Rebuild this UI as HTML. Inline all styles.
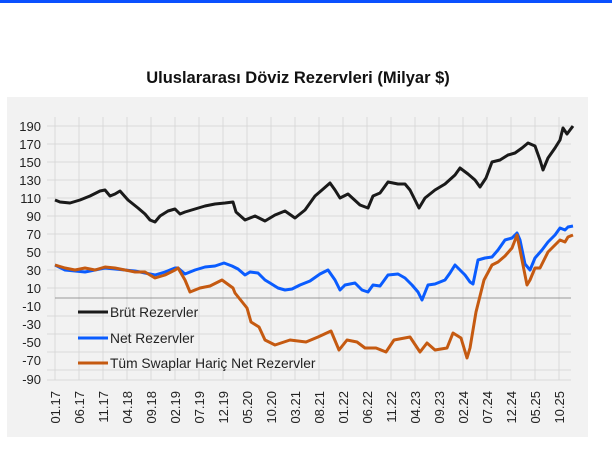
<!DOCTYPE html>
<html><head><meta charset="utf-8"><style>
body{margin:0;background:#fff;width:612px;height:470px;overflow:hidden}
svg{display:block;font-family:"Liberation Sans",sans-serif}
</style></head><body>
<svg width="612" height="470" viewBox="0 0 612 470">
<rect x="0" y="0" width="612" height="3" fill="#0a50ff"/>
<text x="298" y="83" text-anchor="middle" font-size="16.5" font-weight="bold" fill="#111">Uluslararası  Döviz Rezervleri  (Milyar $)</text>
<rect x="7" y="97" width="581" height="340" fill="#f2f2f2"/>
<g stroke="#d9d9d9" stroke-width="1">
<line x1="47" x2="571" y1="126" y2="126"/><line x1="47" x2="571" y1="144" y2="144"/><line x1="47" x2="571" y1="162" y2="162"/><line x1="47" x2="571" y1="180" y2="180"/><line x1="47" x2="571" y1="198" y2="198"/><line x1="47" x2="571" y1="216" y2="216"/><line x1="47" x2="571" y1="234" y2="234"/><line x1="47" x2="571" y1="252" y2="252"/><line x1="47" x2="571" y1="270" y2="270"/><line x1="47" x2="571" y1="288" y2="288"/><line x1="47" x2="571" y1="316" y2="316"/><line x1="47" x2="571" y1="334" y2="334"/><line x1="47" x2="571" y1="352" y2="352"/><line x1="47" x2="571" y1="370" y2="370"/><line x1="47" x2="571" y1="380" y2="380"/>
<line x1="55" x2="55" y1="117" y2="380"/><line x1="79" x2="79" y1="117" y2="380"/><line x1="103" x2="103" y1="117" y2="380"/><line x1="127" x2="127" y1="117" y2="380"/><line x1="151" x2="151" y1="117" y2="380"/><line x1="175" x2="175" y1="117" y2="380"/><line x1="199" x2="199" y1="117" y2="380"/><line x1="223" x2="223" y1="117" y2="380"/><line x1="247" x2="247" y1="117" y2="380"/><line x1="271" x2="271" y1="117" y2="380"/><line x1="295" x2="295" y1="117" y2="380"/><line x1="319" x2="319" y1="117" y2="380"/><line x1="343" x2="343" y1="117" y2="380"/><line x1="367" x2="367" y1="117" y2="380"/><line x1="391" x2="391" y1="117" y2="380"/><line x1="415" x2="415" y1="117" y2="380"/><line x1="439" x2="439" y1="117" y2="380"/><line x1="463" x2="463" y1="117" y2="380"/><line x1="487" x2="487" y1="117" y2="380"/><line x1="511" x2="511" y1="117" y2="380"/><line x1="535" x2="535" y1="117" y2="380"/><line x1="559" x2="559" y1="117" y2="380"/>
</g>
<line x1="55" x2="571" y1="298" y2="298" stroke="#999" stroke-width="1"/>
<g font-size="13" fill="#222" text-anchor="end">
<text x="41" y="131">190</text><text x="41" y="149">170</text><text x="41" y="167">150</text><text x="41" y="185">130</text><text x="41" y="203">110</text><text x="41" y="221">90</text><text x="41" y="239">70</text><text x="41" y="257">50</text><text x="41" y="275">30</text><text x="41" y="293">10</text><text x="41" y="311">-10</text><text x="41" y="329">-30</text><text x="41" y="347">-50</text><text x="41" y="365">-70</text><text x="41" y="384">-90</text>
</g>
<g font-size="13" fill="#222" text-anchor="end">
<text transform="translate(60,391) rotate(-90)">01.17</text><text transform="translate(84,391) rotate(-90)">06.17</text><text transform="translate(108,391) rotate(-90)">11.17</text><text transform="translate(132,391) rotate(-90)">04.18</text><text transform="translate(156,391) rotate(-90)">09.18</text><text transform="translate(180,391) rotate(-90)">02.19</text><text transform="translate(204,391) rotate(-90)">07.19</text><text transform="translate(228,391) rotate(-90)">12.19</text><text transform="translate(252,391) rotate(-90)">05.20</text><text transform="translate(276,391) rotate(-90)">10.20</text><text transform="translate(300,391) rotate(-90)">03.21</text><text transform="translate(324,391) rotate(-90)">08.21</text><text transform="translate(348,391) rotate(-90)">01.22</text><text transform="translate(372,391) rotate(-90)">06.22</text><text transform="translate(396,391) rotate(-90)">11.22</text><text transform="translate(420,391) rotate(-90)">04.23</text><text transform="translate(444,391) rotate(-90)">09.23</text><text transform="translate(468,391) rotate(-90)">02.24</text><text transform="translate(492,391) rotate(-90)">07.24</text><text transform="translate(516,391) rotate(-90)">12.24</text><text transform="translate(540,391) rotate(-90)">05.25</text><text transform="translate(564,391) rotate(-90)">10.25</text>
</g>
<g fill="none" stroke-width="3" stroke-linejoin="round">
<polyline stroke="#1a1a1a" points="55,200 60,202 70,203 80,200 90,196 100,191 105,190 110,196 115,194 120,191 128,200 138,208 145,214 150,220 155,222 160,216 168,211 175,209 180,214 185,212 195,209 205,206 215,204 225,203 233,202 236,212 245,220 255,216 265,221 275,215 285,211 295,218 305,210 315,196 322,190 330,183 335,190 340,198 348,194 360,205 368,208 373,196 380,193 388,182 398,184 405,184 410,190 415,200 419,208 425,198 435,190 445,184 455,175 460,168 468,174 475,180 480,187 486,178 492,162 500,160 508,155 515,153 522,148 528,143 535,146 540,160 543,170 548,158 555,148 560,140 563,128 567,134 570,130 573,126"/>
<polyline stroke="#0a5cff" points="55,265 65,270 75,271 85,272 95,270 105,268 115,269 125,270 135,271 145,273 155,275 165,272 175,268 178,268 185,274 195,270 205,267 215,266 224,263 232,266 238,269 245,275 250,272 258,273 265,280 270,283 278,288 285,290 292,289 300,285 310,281 320,274 328,270 335,280 340,290 345,285 355,283 362,290 368,292 373,285 380,286 388,275 398,274 405,278 412,285 418,292 422,300 428,285 435,284 445,280 450,273 455,265 460,270 465,275 470,282 473,284 478,260 485,258 492,257 498,250 505,240 512,238 517,233 520,240 525,264 530,270 535,258 542,250 548,242 555,235 560,228 565,230 568,227 573,226"/>
<polyline stroke="#c55a11" points="55,265 65,268 75,270 85,268 95,270 105,267 115,268 125,270 135,272 145,272 155,278 165,275 175,270 178,268 185,280 190,292 200,288 210,286 222,280 233,288 235,293 247,308 251,322 259,327 265,340 275,345 290,340 306,342 318,337 331,331 339,350 347,340 357,342 365,348 376,348 386,352 394,340 410,337 420,352 427,343 435,350 447,348 453,333 461,338 467,358 470,348 476,312 484,280 492,265 498,262 505,256 512,248 517,235 520,250 527,285 530,280 535,268 540,268 548,252 555,245 560,240 565,242 568,237 573,235"/>
</g>
<g stroke-width="3"><line x1="78" x2="108" y1="312" y2="312" stroke="#1a1a1a"/><line x1="78" x2="108" y1="338" y2="338" stroke="#0a5cff"/><line x1="78" x2="108" y1="363" y2="363" stroke="#c55a11"/></g>
<g font-size="13.8" fill="#222"><text x="110" y="317">Brüt Rezervler</text><text x="110" y="343">Net Rezervler</text><text x="110" y="368">Tüm Swaplar Hariç Net Rezervler</text></g>
</svg>
</body></html>
